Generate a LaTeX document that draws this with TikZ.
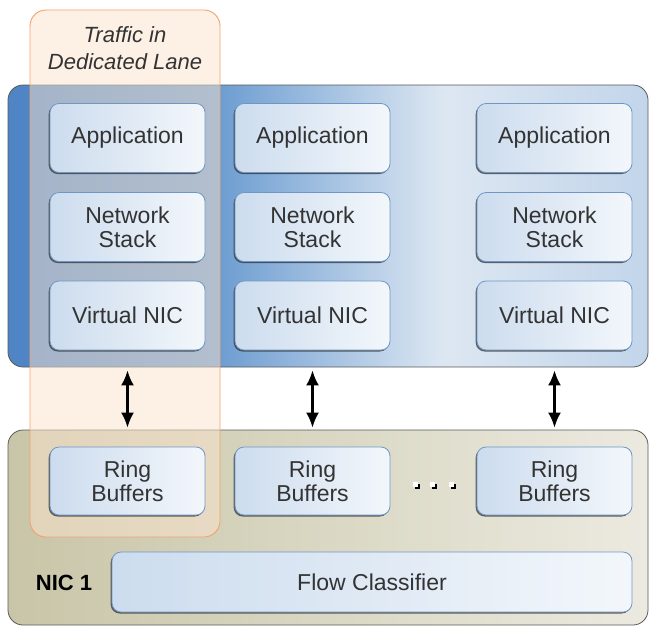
\documentclass[tikz,border=0pt]{standalone}
\usepackage{fontspec}
\setmainfont{Liberation Sans}
\usepackage{tikz}
\usetikzlibrary{arrows.meta,shadows}

\definecolor{hostdark}{HTML}{4F85C4}
\definecolor{hostmid}{HTML}{6A9BD0}
\definecolor{hostlight}{HTML}{DDE7F2}
\definecolor{hostright}{HTML}{C2D5EA}
\definecolor{nicdark}{HTML}{C8C5A8}
\definecolor{niclight}{HTML}{ECEAE0}
\definecolor{boxedge}{HTML}{6E97C6}
\definecolor{boxfillA}{HTML}{CCDCEE}
\definecolor{boxfillB}{HTML}{F3F7FB}
\definecolor{laneedge}{HTML}{F2A26C}
\definecolor{lanefill}{HTML}{FBE3CD}
\definecolor{txtgray}{HTML}{333333}

\pgfdeclarehorizontalshading{hostshade}{100bp}{color(0bp)=(hostdark);
    color(27bp)=(hostdark); color(41bp)=(hostmid); color(59bp)=(hostlight);
    color(75bp)=(hostright); color(100bp)=(hostright)}

\begin{document}
\begin{tikzpicture}[x=1pt, y=-1pt,
        font=\fontsize{23}{24}\selectfont,
        inbox/.style={draw=boxedge, line width=0.8pt, rounded corners=9pt,
            left color=boxfillA, right color=boxfillB, text=txtgray,
            align=center, minimum width=155pt, minimum height=69pt,
            inner sep=0pt,
            drop shadow={shadow xshift=-1.3pt, shadow yshift=-1.5pt,
                opacity=0.75, fill=black!80}},
        outerbox/.style={draw=black!65, line width=0.8pt, rounded corners=15pt,
            inner sep=0pt},
        dualarrow/.style={{Latex[length=15pt,width=13pt]}-{Latex[length=15pt,width=13pt]},
            line width=2.4pt}
        ]
    \useasboundingbox (0,0) rectangle (650,630);

    % Rahmen
    \node (host) [outerbox, minimum width=640pt, minimum height=282pt,
        shading=hostshade] at (328,226) {};
    \node (nic) [outerbox, minimum width=640pt, minimum height=195pt,
        left color=nicdark, right color=niclight]
        at (328,527.5) {};

    % Spur
    \node (lane) [draw=laneedge, line width=0.9pt, rounded corners=16pt,
        fill=lanefill, fill opacity=0.5, draw opacity=1,
        minimum width=190pt, minimum height=527pt, inner sep=0pt]
        at (125,273.5) {};
    \node (lanetext) [font=\fontsize{22}{27}\selectfont\itshape, text=txtgray,
        align=center] at (125,48) {Traffic in\\Dedicated Lane};

    % Bausteine
    \foreach \i/\x in {1/127.5, 2/312.5, 3/554.5}{
        \node (app\i)  [inbox] at (\x,138)   {Application};
        \node (net\i)  [inbox] at (\x,227)   {Network\\Stack};
        \node (vnic\i) [inbox] at (\x,315.5) {Virtual NIC};
        \node (ring\i) [inbox, minimum height=68pt] at (\x,481) {Ring\\Buffers};
    }
    \node (flow) [inbox, minimum width=520pt, minimum height=60pt]
        at (372,582) {Flow Classifier};
    \node (niclabel) [font=\fontsize{22}{24}\selectfont\bfseries, text=black]
        at (64,583) {NIC 1};

    % Punkte
    \foreach \x in {415,432,451}{
        \node [draw=none, fill=white, minimum size=5pt, inner sep=0pt,
            drop shadow={shadow xshift=2pt, shadow yshift=-2pt,
                opacity=1, fill=black}] at (\x,484) {};
    }

    % Verbindungen
    \foreach \i in {1,2,3}{
        \draw [dualarrow] ([yshift=-3pt]host.south -| vnic\i)
            -- ([yshift=2pt]nic.north -| ring\i);
    }
\end{tikzpicture}
\end{document}
